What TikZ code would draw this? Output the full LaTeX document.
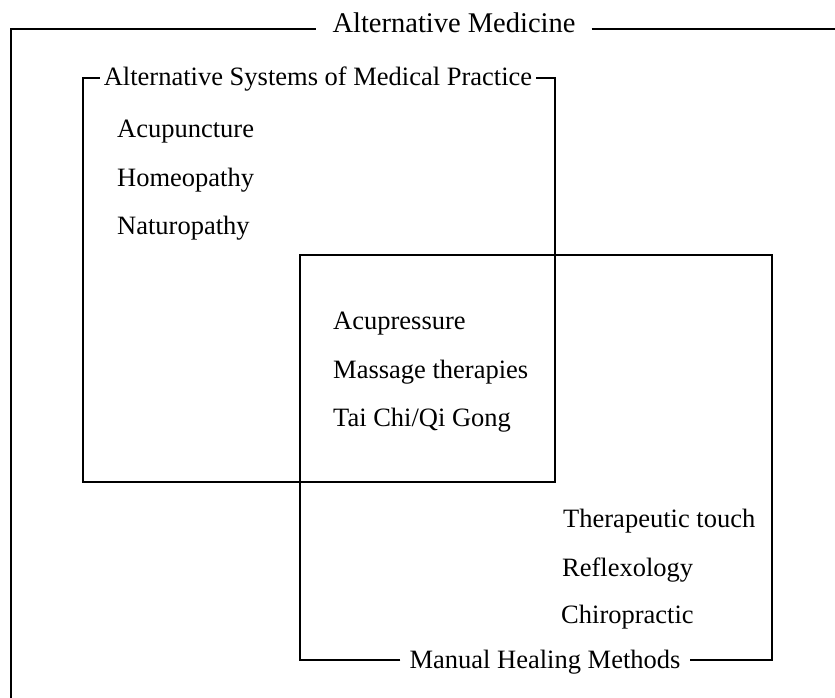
\documentclass[tikz,border=0pt]{standalone}
\usepackage{fontspec}
\setmainfont{Liberation Serif}
\begin{document}
\begin{tikzpicture}[x=1pt,y=-1pt]
\tikzset{
  frame/.style={line width=1.5pt, line join=miter},
  outerframe/.style={line width=1.8pt, line join=miter},
  item/.style={anchor=base west, inner sep=0pt, font=\fontsize{26.5}{30}\selectfont},
  boxtitle/.style={anchor=base, inner ysep=0pt, font=\fontsize{26.5}{30}\selectfont},
  maintitle/.style={anchor=base, inner ysep=0pt, inner xsep=16pt, font=\fontsize{28.5}{32}\selectfont}
}
\useasboundingbox (0,0) rectangle (835,698);
\clip (0,0) rectangle (835,698);
% outer frame
\coordinate (oTL) at (11,29);
\coordinate (oBL) at (11,700);
\coordinate (oTR) at (837,29);
\node[maintitle] (outerT) at (454,33) {Alternative Medicine};
\draw[outerframe] (oBL) -- (oTL) -- (outerT.west |- oTL);
\draw[outerframe] (outerT.east |- oTR) -- (oTR);
% alternative systems box
\coordinate (s1) at (83,78);
\coordinate (s2) at (555,78);
\coordinate (s3) at (555,482);
\coordinate (s4) at (83,482);
\node[boxtitle, inner xsep=4pt] (sysT) at (318,86) {Alternative Systems of Medical Practice};
\draw[frame] (sysT.west |- s1) -- (s1) -- (s4) -- (s3) -- (s2) -- (sysT.east |- s2);
% manual healing box
\coordinate (m1) at (300,255);
\coordinate (m2) at (772,255);
\coordinate (m3) at (772,660);
\coordinate (m4) at (300,660);
\node[boxtitle, inner xsep=9pt] (manT) at (545,668) {Manual Healing Methods};
\draw[frame] (manT.west |- m4) -- (m4) -- (m1) -- (m2) -- (m3) -- (manT.east |- m3);
% items
\node[item] (acupuncture) at (117,138) {Acupuncture};
\node[item] (homeopathy) at (117,186) {Homeopathy};
\node[item] (naturopathy) at (117,234) {Naturopathy};
\node[item] (acupressure) at (333,329) {Acupressure};
\node[item] (massage) at (333,378) {Massage therapies};
\node[item] (taichi) at (333,426) {Tai Chi/Qi Gong};
\node[item] (therapeutic) at (563,527) {Therapeutic touch};
\node[item] (reflexology) at (562,576) {Reflexology};
\node[item] (chiropractic) at (561,623) {Chiropractic};
\end{tikzpicture}
\end{document}
